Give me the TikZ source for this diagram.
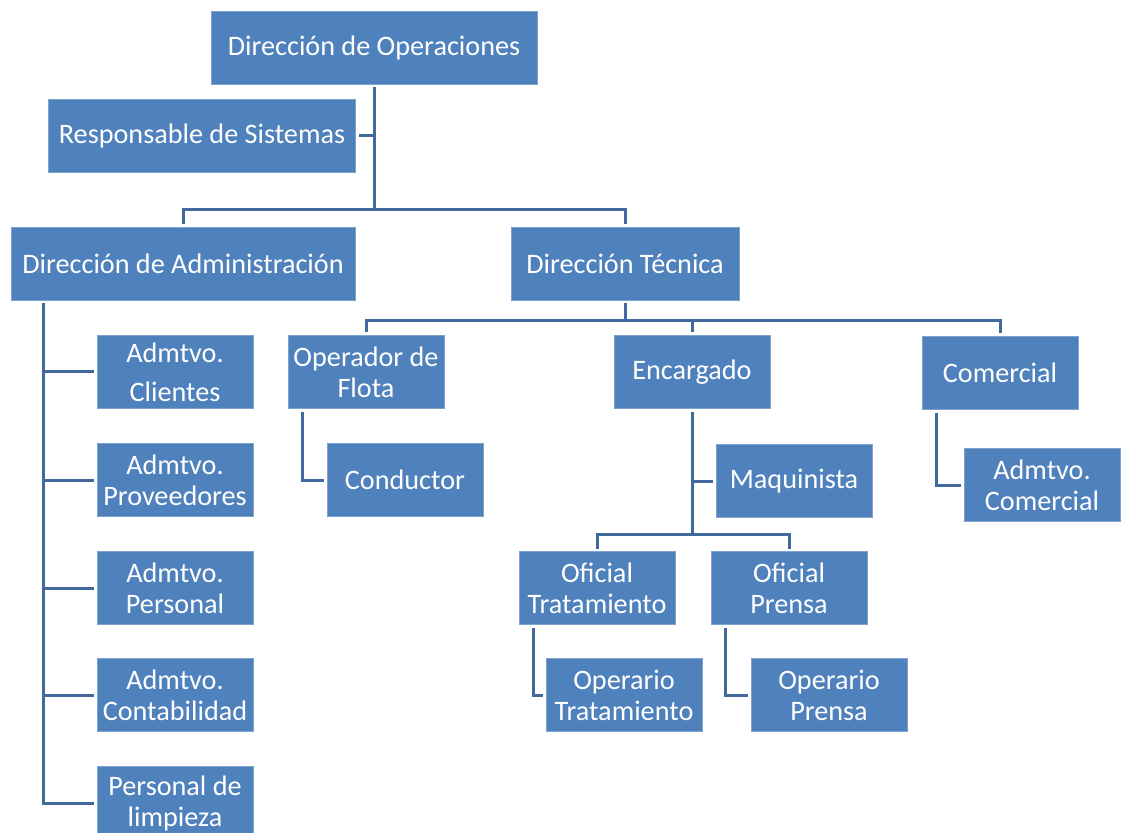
\documentclass[tikz,border=0pt]{standalone}
\usepackage{fontspec}
\setmainfont{Carlito}
\definecolor{boxblue}{HTML}{4F81BD}
\definecolor{boxedge}{HTML}{7FA2CF}
\definecolor{linkblue}{HTML}{41699B}
\tikzset{
    unit/.style={draw=boxedge,fill=boxblue,text=white,line width=0.4pt,inner sep=0pt,
        align=center,minimum height=36.5pt,minimum width=78pt,outer sep=1.5pt,
        font=\fontsize{14.1}{15.5}\selectfont},
    link/.style={linkblue,line width=1.5pt}
}
\begin{document}
\begin{tikzpicture}[x=0.5pt,y=-0.5pt]
            \useasboundingbox (0,0) rectangle (1122,833);
            % top level
            \node [unit,minimum width=163pt] (dirop) at (374,48) {Dirección de Operaciones};
            \node [unit,minimum width=153.5pt] (respsis) at (202,136) {Responsable de Sistemas};
            \node [unit,minimum width=172pt] (diradm) at (183,264) {Dirección de Administración};
            \node [unit,minimum width=114pt] (dirtec) at (625,264) {Dirección Técnica};
            % administracion
            \node [unit] (admcli) at (175,372) {Admtvo.\\[4pt]Clientes};
            \node [unit] (admprov) at (175,480) {Admtvo.\\Proveedores};
            \node [unit] (admpers) at (175,588) {Admtvo.\\Personal};
            \node [unit] (admcont) at (175,695) {Admtvo.\\Contabilidad};
            \node [unit] (limpieza) at (175,803) {Personal de\\limpieza};
            % tecnica
            \node [unit] (opflota) at (366,372) {Operador de\\Flota};
            \node [unit] (conductor) at (405,480) {Conductor};
            \node [unit] (encargado) at (692,372) {Encargado};
            \node [unit] (maquinista) at (794,481) {Maquinista};
            \node [unit] (comercial) at (1000,373) {Comercial};
            \node [unit] (admcom) at (1042,485) {Admtvo.\\Comercial};
            \node [unit] (oftrat) at (597,588) {Oficial\\Tratamiento};
            \node [unit] (ofprensa) at (789,588) {Oficial\\Prensa};
            \node [unit] (optrat) at (624,695) {Operario\\Tratamiento};
            \node [unit] (opprensa) at (829,695) {Operario\\Prensa};
            % connectors
            \coordinate (jop) at (374,210);
            \draw [link] (dirop.south) -- (jop);
            \draw [link] (respsis.east) -- (respsis.east -| jop);
            \draw [link] (diradm.north) |- (jop) -| (dirtec.north);
            \coordinate (jadm) at (43,300);
            \draw [link] (diradm.south -| jadm) |- (limpieza.west);
            \foreach \n in {admcli,admprov,admpers,admcont} {
                \draw [link] (\n.west) -- (\n.west -| jadm);
            }
            \coordinate (jtec) at (625,321);
            \draw [link] (dirtec.south) -- (jtec);
            \draw [link] (opflota.north) |- (jtec) -| (comercial.north);
            \draw [link] (encargado.north) -- (encargado.north |- jtec);
            \coordinate (jenc) at (692,534);
            \draw [link] (encargado.south) -- (jenc);
            \draw [link] (maquinista.west) -- (maquinista.west -| jenc);
            \draw [link] (oftrat.north) |- (jenc) -| (ofprensa.north);
            \draw [link] ([xshift=8.5pt]opflota.south west) |- (conductor.west);
            \draw [link] ([xshift=8.5pt]comercial.south west) |- (admcom.west);
            \draw [link] ([xshift=8.5pt]oftrat.south west) |- (optrat.west);
            \draw [link] ([xshift=8.5pt]ofprensa.south west) |- (opprensa.west);
        \end{tikzpicture}
\end{document}
